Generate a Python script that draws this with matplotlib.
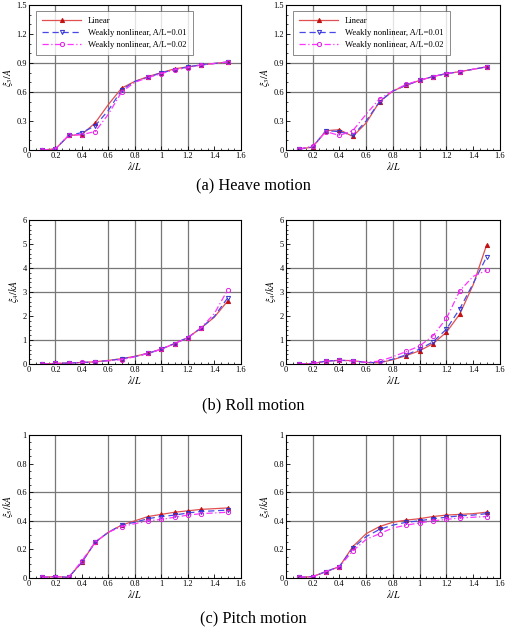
import matplotlib as mpl
mpl.use('Agg')
import matplotlib.pyplot as plt
from matplotlib.ticker import MultipleLocator

plt.rcParams['font.family'] = ['Liberation Serif', 'DejaVu Serif']
plt.rcParams['mathtext.fontset'] = 'stix'

# wavelength ratio lambda/L
x = [0.1, 0.2, 0.3, 0.4, 0.5, 0.6, 0.7, 0.8, 0.9, 1.0, 1.1, 1.2, 1.3, 1.4, 1.5]
# points that carry a symbol in the original figure
marked = [0, 1, 2, 3, 4, 6, 8, 9, 10, 11, 12, 14]

# (a) heave, left
heave_l_lin = [0.0, 0.01, 0.15, 0.16, 0.28, 0.47, 0.64, 0.71, 0.76, 0.80, 0.84, 0.86, 0.88, 0.895, 0.91]
heave_l_w01 = [0.0, 0.01, 0.15, 0.18, 0.25, 0.41, 0.62, 0.71, 0.75, 0.80, 0.83, 0.86, 0.88, 0.895, 0.91]
heave_l_w02 = [0.0, 0.01, 0.15, 0.16, 0.19, 0.37, 0.60, 0.70, 0.75, 0.79, 0.83, 0.85, 0.88, 0.895, 0.91]
# (a) heave, right
heave_r_lin = [0.01, 0.03, 0.20, 0.21, 0.14, 0.28, 0.50, 0.61, 0.67, 0.72, 0.76, 0.79, 0.81, 0.835, 0.86]
heave_r_w01 = [0.01, 0.03, 0.20, 0.19, 0.15, 0.30, 0.50, 0.61, 0.67, 0.72, 0.76, 0.79, 0.81, 0.835, 0.86]
heave_r_w02 = [0.01, 0.04, 0.19, 0.15, 0.20, 0.37, 0.53, 0.61, 0.68, 0.72, 0.76, 0.79, 0.81, 0.835, 0.86]
# (b) roll, left
roll_l_lin = [0.0, 0.02, 0.04, 0.06, 0.09, 0.15, 0.22, 0.32, 0.45, 0.62, 0.85, 1.10, 1.50, 1.95, 2.62]
roll_l_w01 = [0.0, 0.02, 0.04, 0.06, 0.09, 0.14, 0.21, 0.31, 0.44, 0.62, 0.85, 1.10, 1.50, 1.98, 2.75]
roll_l_w02 = [0.0, 0.02, 0.04, 0.07, 0.09, 0.13, 0.18, 0.30, 0.44, 0.62, 0.85, 1.10, 1.50, 2.10, 3.08]
# (b) roll, right
roll_r_lin = [0.0, 0.02, 0.12, 0.15, 0.14, 0.06, 0.05, 0.18, 0.35, 0.55, 0.85, 1.32, 2.08, 3.30, 4.95]
roll_r_w01 = [0.0, 0.02, 0.12, 0.15, 0.14, 0.06, 0.06, 0.20, 0.38, 0.62, 0.92, 1.45, 2.30, 3.35, 4.45]
roll_r_w02 = [0.0, 0.02, 0.12, 0.15, 0.13, 0.07, 0.12, 0.30, 0.52, 0.75, 1.18, 1.90, 3.05, 3.65, 3.90]
# (c) pitch, left
pitch_l_lin = [0.005, 0.01, 0.005, 0.11, 0.25, 0.32, 0.37, 0.40, 0.43, 0.445, 0.46, 0.47, 0.48, 0.485, 0.49]
pitch_l_w01 = [0.005, 0.01, 0.005, 0.11, 0.25, 0.32, 0.37, 0.39, 0.415, 0.43, 0.44, 0.455, 0.465, 0.47, 0.475]
pitch_l_w02 = [0.005, 0.01, 0.005, 0.12, 0.25, 0.32, 0.36, 0.38, 0.40, 0.41, 0.425, 0.44, 0.45, 0.455, 0.46]
# (c) pitch, right
pitch_r_lin = [0.005, 0.01, 0.045, 0.08, 0.22, 0.31, 0.36, 0.39, 0.405, 0.415, 0.43, 0.44, 0.445, 0.45, 0.46]
pitch_r_w01 = [0.005, 0.01, 0.045, 0.08, 0.21, 0.29, 0.34, 0.37, 0.39, 0.40, 0.415, 0.425, 0.435, 0.44, 0.45]
pitch_r_w02 = [0.005, 0.01, 0.045, 0.08, 0.19, 0.27, 0.31, 0.35, 0.37, 0.385, 0.40, 0.41, 0.42, 0.425, 0.43]

labels = ['Linear', 'Weakly nonlinear, A/L=0.01', 'Weakly nonlinear, A/L=0.02']
captions = ['(a) Heave motion', '(b) Roll motion', '(c) Pitch motion']
ylabels = [r'$\xi_3/A$', r'$\xi_4/kA$', r'$\xi_5/kA$']

panels = [
    [(heave_l_lin, heave_l_w01, heave_l_w02), (heave_r_lin, heave_r_w01, heave_r_w02)],
    [(roll_l_lin, roll_l_w01, roll_l_w02), (roll_r_lin, roll_r_w01, roll_r_w02)],
    [(pitch_l_lin, pitch_l_w01, pitch_l_w02), (pitch_r_lin, pitch_r_w01, pitch_r_w02)],
]

# per row: ymax, major, minor, horizontal grid lines
yspec = [
    (1.5, 0.3, 0.1, [0.6, 0.9]),
    (6, 1, 0.2, [1, 3, 4]),
    (1, 0.2, 0.05, [0.4, 0.6]),
]
xgrid = [0.2, 0.6, 0.8, 1.0, 1.2]

styles = [
    dict(color='#e05050', ls='-', marker='^', mfc='#c01010', mec='#c01010'),
    dict(color='#4848e8', ls=(0, (5, 3)), marker='v', mfc='none', mec='#3030d0'),
    dict(color='#ff33ff', ls=(0, (5, 2, 1, 2)), marker='o', mfc='none', mec='#e020e0'),
]

fig = plt.figure(figsize=(5.07, 6.32), dpi=100)

lefts = [0.057, 0.564]
widths = [0.418, 0.422]
bottoms = [0.7627, 0.4241, 0.0854]
heights = [0.2294, 0.2278, 0.2263]
cap_y = [0.705, 0.358, 0.022]

fmt = mpl.ticker.FuncFormatter(lambda v, p: '%g' % round(v, 2))

for r in range(3):
    ymax, ymaj, ymin, hgrid = yspec[r]
    for c in range(2):
        ax = fig.add_axes([lefts[c], bottoms[r], widths[c], heights[r]])
        for g in xgrid:
            ax.axvline(g, color='#777777', lw=0.9, zorder=0)
        for g in hgrid:
            ax.axhline(g, color='#777777', lw=0.9, zorder=0)
        for ys, st, lab in zip(panels[r][c], styles, labels):
            ax.plot(x, ys, lw=0.9, ms=3.0, mew=0.7, markevery=marked, label=lab, **st)
        ax.set_xlim(0, 1.6)
        ax.set_ylim(0, ymax)
        ax.xaxis.set_major_locator(MultipleLocator(0.2))
        ax.xaxis.set_minor_locator(MultipleLocator(0.05))
        ax.yaxis.set_major_locator(MultipleLocator(ymaj))
        ax.yaxis.set_minor_locator(MultipleLocator(ymin))
        ax.xaxis.set_major_formatter(fmt)
        ax.yaxis.set_major_formatter(fmt)
        ax.tick_params(which='both', direction='in', labelsize=6, pad=1.5)
        ax.tick_params(which='major', length=3, width=0.6)
        ax.tick_params(which='minor', length=1.5, width=0.5)
        for s in ax.spines.values():
            s.set_linewidth(0.8)
        ax.set_xlabel(r'$\lambda/L$', fontsize=7, labelpad=0)
        ax.set_ylabel(ylabels[r], fontsize=7, labelpad=1)
        if r == 0:
            leg = ax.legend(loc='upper left', fontsize=6.2, frameon=True, fancybox=False,
                            edgecolor='#555555', handlelength=4.5, borderpad=0.7,
                            labelspacing=0.45, bbox_to_anchor=(0.015, 0.99))
            leg.get_frame().set_linewidth(0.6)
    fig.text(0.5, cap_y[r], captions[r], ha='center', va='center', fontsize=11.8)

fig.savefig('out.png', dpi=100)
